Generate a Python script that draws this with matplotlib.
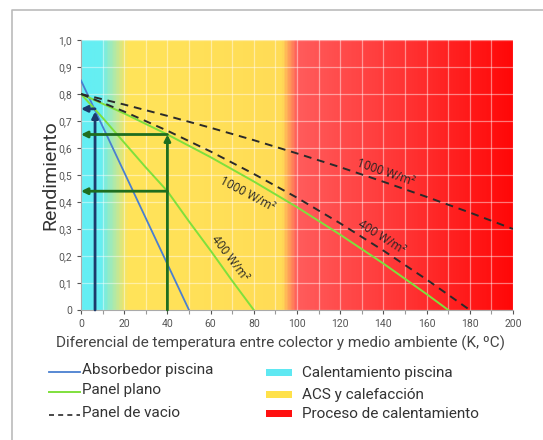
import numpy as np
import matplotlib
matplotlib.use('Agg')
import matplotlib.pyplot as plt
from matplotlib.colors import LinearSegmentedColormap
from matplotlib.lines import Line2D
from matplotlib.patches import Rectangle

plt.rcParams['font.family'] = ['Roboto', 'DejaVu Sans']

# absorbedor piscina (linea recta)
x_abs = [0, 50]
y_abs = [0.85, 0.0]

# panel plano, 1000 W/m2 y 400 W/m2
x_pp1000 = [0, 20, 40, 60, 80, 100, 120, 140, 160, 170]
y_pp1000 = [0.80, 0.728, 0.650, 0.566, 0.476, 0.381, 0.279, 0.172, 0.059, 0.0]
x_pp400 = [0, 10, 20, 30, 40, 50, 60, 70, 80]
y_pp400 = [0.80, 0.712, 0.620, 0.528, 0.440, 0.328, 0.220, 0.108, 0.0]

# panel de vacio, 1000 W/m2 y 400 W/m2
x_vac1000 = [0, 20, 40, 60, 80, 100, 120, 140, 160, 180, 200]
y_vac1000 = [0.80, 0.761, 0.719, 0.675, 0.629, 0.580, 0.529, 0.475, 0.419, 0.361, 0.30]
x_vac400 = [0, 20, 40, 60, 80, 100, 120, 140, 160, 180]
y_vac400 = [0.80, 0.735, 0.664, 0.587, 0.504, 0.416, 0.321, 0.220, 0.113, 0.0]

# lecturas con flechas
x_lect_abs = 6.5
y_lect_abs = 0.745
x_lect_pp = 40
y_lect_pp = [0.65, 0.44]

# zonas de fondo (posicion en x, color)
zonas_x = [0, 9, 21, 93, 100, 150, 200]
zonas_col = ['#64eef4', '#66eef2', '#ffe45a', '#ffdc56', '#ff5c5c', '#ff3434', '#ff0808']

xticks = np.arange(0, 201, 20)
yticks = np.arange(0, 1.01, 0.1)
ytick_labels = ['0'] + ['%.1f' % v for v in yticks[1:]]
ytick_labels = [s.replace('.', ',') for s in ytick_labels]

fig = plt.figure(figsize=(5.43, 4.40), dpi=100)
ax = fig.add_axes([81 / 543, 1 - 310 / 440, 432 / 543, 270 / 440])

# fondo degradado
cmap = LinearSegmentedColormap.from_list('zonas', list(zip(np.array(zonas_x) / 200, zonas_col)))
grad = np.linspace(0, 1, 400).reshape(1, -1)
ax.imshow(grad, cmap=cmap, extent=[0, 200, 0, 1], aspect='auto', zorder=0)

ax.set_xlim(0, 200)
ax.set_ylim(0, 1)
ax.set_yticks(yticks)
ax.set_xticks(xticks)
ax.set_xticks(np.arange(10, 200, 20), minor=True)
ax.grid(True, color='white', alpha=0.45, lw=0.9, zorder=1)
ax.grid(True, which='minor', axis='x', color='white', alpha=0.45, lw=0.9, zorder=1)
ax.set_xticklabels([str(v) for v in xticks])
ax.set_yticklabels(ytick_labels)
ax.tick_params(labelsize=7.5, colors='#555555', length=3, width=0.8)
ax.tick_params(which='minor', length=3, width=0.8, colors='#999999')
for s in ['top', 'right']:
    ax.spines[s].set_visible(False)
for s in ['left', 'bottom']:
    ax.spines[s].set_color('#aaaaaa')

# curvas
ax.plot(x_abs, y_abs, color='#4a7fd0', lw=1.3, zorder=3)
ax.plot(x_pp1000, y_pp1000, color='#7fe03c', lw=1.4, zorder=3)
ax.plot(x_pp400, y_pp400, color='#7fe03c', lw=1.4, zorder=3)
ax.plot(x_vac1000, y_vac1000, color='#2a2a2a', lw=1.4, ls=(0, (4, 3)), zorder=3)
ax.plot(x_vac400, y_vac400, color='#2a2a2a', lw=1.4, ls=(0, (4, 3)), zorder=3)

# flechas de lectura
navy = '#1b3a6b'
dkgreen = '#1f6e1f'
akw = dict(arrowstyle='-|>', lw=2.0, mutation_scale=9, shrinkA=0, shrinkB=0)
ax.annotate('', xy=(x_lect_abs, y_lect_abs - 0.01), xytext=(x_lect_abs, 0),
            arrowprops=dict(color=navy, **akw), zorder=4)
ax.annotate('', xy=(0, y_lect_abs), xytext=(x_lect_abs, y_lect_abs),
            arrowprops=dict(color=navy, **akw), zorder=4)
ax.annotate('', xy=(x_lect_pp, y_lect_pp[0]), xytext=(x_lect_pp, 0),
            arrowprops=dict(color=dkgreen, **akw), zorder=4)
for yv in y_lect_pp:
    ax.annotate('', xy=(0, yv), xytext=(x_lect_pp, yv),
                arrowprops=dict(color=dkgreen, **akw), zorder=4)

# etiquetas de las curvas
tkw = dict(fontsize=8.5, color='#222222', ha='center', va='center',
           family=['Open Sans', 'DejaVu Sans'], zorder=5)
ax.text(77, 0.43, '1000 W/m²', rotation=-28, **tkw)
ax.text(69, 0.19, '400 W/m²', rotation=-53, **tkw)
ax.text(141, 0.51, '1000 W/m²', rotation=-19, **tkw)
ax.text(139, 0.27, '400 W/m²', rotation=-32, **tkw)

ax.set_xlabel('Diferencial de temperatura entre colector y medio ambiente (K, ºC)',
              fontsize=11, color='#444444')
ax.xaxis.set_label_coords((281 - 81) / 432, -(343 - 310) / 270)
ax.xaxis.label.set_va('center')
fig.text(50 / 543, 1 - 175 / 440, 'Rendimiento', rotation=90, fontsize=14,
         color='#333333', ha='center', va='center')

# leyenda
def fx(px):
    return px / 543


def fy(py):
    return 1 - py / 440


leg_lines = [('Absorbedor piscina', dict(color='#4a7fd0', lw=1.3), 370),
             ('Panel plano', dict(color='#7fe03c', lw=1.4), 390),
             ('Panel de vacio', dict(color='#2a2a2a', lw=1.2, ls=(0, (3, 2.5))), 413)]
for txt, kw, py in leg_lines:
    fig.add_artist(Line2D([fx(49), fx(80)], [fy(py + 2), fy(py + 2)], transform=fig.transFigure, **kw))
    fig.text(fx(82), fy(py), txt, fontsize=11, color='#333333', va='center')

leg_zonas = [('Calentamiento piscina', '#5fe8f2', 373),
             ('ACS y calefacción', '#ffe14a', 395),
             ('Proceso de calentamiento', '#ff1010', 414)]
for txt, col, py in leg_zonas:
    fig.add_artist(Rectangle((fx(266), fy(py + 3)), fx(26), 7 / 440, transform=fig.transFigure,
                             color=col, lw=0))
    fig.text(fx(302), fy(py), txt, fontsize=11, color='#333333', va='center')

# marco
fig.add_artist(Line2D([fx(11.5), fx(11.5), fx(543)], [fy(440), fy(10.5), fy(10.5)],
                      transform=fig.transFigure, color='#bbbbbb', lw=1.2))

fig.savefig('out.png', dpi=100)
